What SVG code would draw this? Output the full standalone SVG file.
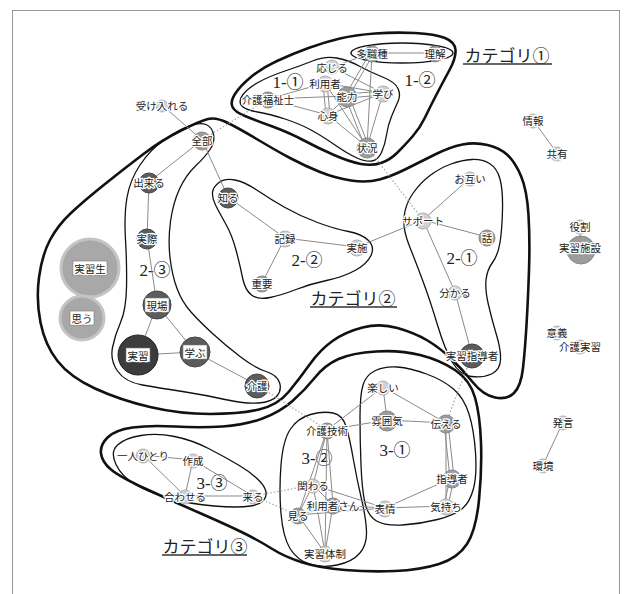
<svg xmlns="http://www.w3.org/2000/svg" width="628" height="594" viewBox="0 0 628 594">
<style>
.thick{fill:none;stroke:#111;stroke-width:2.6;stroke-linejoin:round}
.thin{fill:none;stroke:#111;stroke-width:1.3;stroke-linejoin:round}
.e{stroke:#8a8a8a;stroke-width:1;fill:none}
.d{stroke:#aaa;stroke-width:1.2;stroke-dasharray:1.5 2;fill:none}
.lbl{font-family:"Noto Sans CJK JP",sans-serif;font-size:10.5px;fill:#222;text-anchor:middle;dominant-baseline:central;stroke:#fff;stroke-width:2.5;paint-order:stroke;stroke-linejoin:round}
.box{fill:#fff;stroke:#777;stroke-width:0.6}
.c1{fill:#d0d0d0;stroke:#b0b0b0}
.c2{fill:#9c9c9c;stroke:#888}
.c3{fill:#5c5c5c;stroke:#444}
.c4{fill:#3c3c3c;stroke:#222}
.big{fill:#a8a8a8;stroke:#c4c4c4;stroke-width:3}
.sub{font-family:"Liberation Serif","Noto Sans CJK JP",serif;font-size:17px;fill:#222;text-anchor:middle;dominant-baseline:central}
.cat{font-family:"Noto Sans CJK JP",sans-serif;font-size:17px;fill:#222;text-anchor:middle;dominant-baseline:central}
.ul{stroke:#333;stroke-width:1.3}
</style>
<rect x="12.5" y="10.5" width="607" height="600" fill="#fff" stroke="#999" stroke-width="1"/>

<g id="outlines">
<path class="thick" d="M232.5,107 Q230,102 235,94 240,86 251,77 262,68 277,61 292,54 308.5,48 325,42 340,38.5 355,35 375,33.5 395,32 415,33 435,34 445,38 455,42 455.5,50 456,58 449.5,70 443,82 436.5,94.5 430,107 425,117.5 420,128 412.5,136.5 405,145 397.5,152.5 390,160 381,163 372,166 361,164 350,162 334,155 318,148 304,140.5 290,133 272.5,126.5 255,120 245,116 235,112 232.5,107 Z"/>
<path class="thin" d="M241.5,105.5 Q238,101 243,94.5 248,88 259,82 270,76 285,71 300,66 312.5,61 325,56 336.5,58 348,60 359,66 370,72 382.5,77 395,82 398,88.5 401,95 398,101.5 395,108 391.5,116.5 388,125 386.5,135 385,145 381.5,152.5 378,160 372,161 366,162 357,158 348,154 335,145 322,136 311,130 300,124 285,119 270,114 257.5,112 245,110 241.5,105.5 Z"/>
<ellipse class="thin" cx="402" cy="53" rx="51" ry="10"/>
<path class="thick" d="M181,130.5 Q200,121 208,119 216,117 228,123 240,129 257.5,139.5 275,150 290,158 305,166 320,172 335,178 351,180.5 367,183 379.5,179.5 392,176 406,169 420,162 435,154.5 450,147 462.5,144.5 475,142 487.5,145 500,148 507.5,155 515,162 521,176 527,190 528.5,215 530,240 529,270 528,300 526.5,325 525,350 523,368 521,386 514,393 507,400 495,397.5 483,395 473,382.5 463,370 451.5,359 440,348 427.5,340.5 415,333 397.5,328 380,323 362.5,327.5 345,332 332.5,341 320,350 310,364 300,378 289,391.5 278,405 259,409.5 240,414 210,414 180,414 150,407 120,400 95,388.5 70,377 57.5,361 45,345 40.5,322.5 36,300 39,277.5 42,255 50,240 58,225 71.5,212.5 85,200 105,184 125,168 143.5,154 162,140 181,130.5 Z"/>
<path class="thin" d="M189,126 Q200,122 206,124.5 212,127 213.5,134.5 215,142 210,149.5 205,157 195.5,166 186,175 179.5,189 173,203 170.5,221.5 168,240 170,257.5 172,275 177,288.5 182,302 191,312 200,322 212.5,333.5 225,345 240,356.5 255,368 266,371.5 277,375 279.5,382.5 282,390 277,396 272,402 258.5,403 245,404 225,399.5 205,395 182.5,391.5 160,388 142.5,385 125,382 117.5,371 110,360 112.5,347.5 115,335 120.5,322.5 126,310 126.5,287.5 127,265 125.5,240 124,215 127,197.5 130,180 140,165 150,150 164,140 178,130 189,126 Z"/>
<path class="thin" d="M212.5,192.5 Q213,187 219,182.5 225,178 235,180 245,182 257.5,190.5 270,199 285,207.5 300,216 317.5,222.5 335,229 348.5,231.5 362,234 368.5,240.5 375,247 371,255.5 367,264 355,270.5 343,277 326.5,280.5 310,284 296,289.5 282,295 270,297.5 258,300 251.5,295 245,290 242.5,277.5 240,265 236,250 232,235 225.5,223.5 219,212 215.5,205 212,198 212.5,192.5 Z"/>
<path class="thin" d="M404,217.5 Q405,205 412.5,194 420,183 430,175.5 440,168 451,164 462,160 472,159.5 482,159 489.5,163.5 497,168 500,179 503,190 502.5,210 502,230 500,242.5 498,255 492.5,262.5 487,270 486,280 485,290 488.5,305 492,320 496.5,335 501,350 500.5,360 500,370 491.5,374 483,378 471.5,376.5 460,375 452.5,362.5 445,350 437.5,325 430,300 422.5,280 415,260 409,245 403,230 404,217.5 Z"/>
<path class="thick" d="M101,453.5 Q100,445 107.5,437.5 115,430 132.5,427.5 150,425 175,426.5 200,428 222.5,426.5 245,425 262.5,418.5 280,412 292.5,401 305,390 315,377.5 325,365 338.5,359 352,353 376,351.5 400,350 420,355 440,360 455,370 470,380 475,397.5 480,415 481,442.5 482,470 479,500 476,530 467,544 458,558 439,564 420,570 395,571 370,572 345,570 320,568 302.5,562.5 285,557 271.5,548.5 258,540 241.5,532 225,524 197.5,512 170,500 145,488.5 120,477 111,469.5 102,462 101,453.5 Z"/>
<path class="thin" d="M116,464.5 Q110,452 117.5,445 125,438 141,435.5 157,433 174.5,436.5 192,440 208.5,448.5 225,457 238.5,465 252,473 260,481.5 268,490 265.5,497 263,504 250.5,506 238,508 214,506 190,504 170,498.5 150,493 136,485 122,477 116,464.5 Z"/>
<path class="thin" d="M360,417.5 Q360,395 363,385 366,375 375.5,370.5 385,366 397.5,367 410,368 426.5,374 443,380 453.5,389 464,398 469,414 474,430 475.5,452.5 477,475 473.5,488.5 470,502 462.5,508.5 455,515 437.5,519.5 420,524 402.5,525 385,526 376.5,521 368,516 365,503 362,490 361,465 360,440 360,417.5 Z"/>
<path class="thin" d="M281,465 Q283,440 290.5,429 298,418 310.5,414.5 323,411 333,413 343,415 346.5,427.5 350,440 353.5,460 357,480 361.5,499 366,518 366.5,531.5 367,545 359.5,553.5 352,562 337,565 322,568 309.5,564 297,560 290,548.5 283,537 281,513.5 279,490 281,465 Z"/>
</g>

<g id="labels">
<text class="sub" x="288" y="82">1-①</text>
<text class="sub" x="420" y="80">1-②</text>
<text class="sub" x="462" y="258">2-①</text>
<text class="sub" x="307" y="260">2-②</text>
<text class="sub" x="155" y="270">2-③</text>
<text class="sub" x="395" y="450">3-①</text>
<text class="sub" x="317" y="458">3-②</text>
<text class="sub" x="212" y="483">3-③</text>
<text class="cat" x="507" y="54">カテゴリ①</text>
<line class="ul" x1="463" y1="64" x2="552" y2="64"/>
<text class="cat" x="353" y="297">カテゴリ②</text>
<line class="ul" x1="310" y1="307" x2="397" y2="307"/>
<text class="cat" x="205" y="545">カテゴリ③</text>
<line class="ul" x1="162" y1="555" x2="247" y2="555"/>
</g>

<g id="connectors">
<line class="e" x1="372" y1="53" x2="435" y2="53"/>
<line class="e" x1="372" y1="53" x2="332" y2="67"/>
<line class="e" x1="370" y1="53" x2="345" y2="96"/>
<line class="e" x1="374" y1="53" x2="349" y2="96"/>
<line class="e" x1="372" y1="53" x2="367" y2="147"/>
<line class="e" x1="332" y1="67" x2="383" y2="93"/>
<line class="e" x1="325" y1="83" x2="383" y2="93"/>
<line class="e" x1="268" y1="99" x2="347" y2="96"/>
<line class="e" x1="268" y1="99" x2="325" y2="83"/>
<line class="e" x1="268" y1="99" x2="328" y2="115"/>
<line class="e" x1="347" y1="94" x2="383" y2="91"/>
<line class="e" x1="347" y1="98" x2="383" y2="95"/>
<line class="e" x1="323" y1="83" x2="326" y2="115"/>
<line class="e" x1="327" y1="83" x2="330" y2="115"/>
<line class="e" x1="325" y1="83" x2="367" y2="147"/>
<line class="e" x1="345" y1="96" x2="365" y2="147"/>
<line class="e" x1="349" y1="96" x2="369" y2="147"/>
<line class="e" x1="347" y1="96" x2="328" y2="115"/>
<line class="e" x1="328" y1="115" x2="367" y2="147"/>
<line class="e" x1="328" y1="115" x2="383" y2="93"/>
<line class="e" x1="383" y1="93" x2="367" y2="147"/>
<line class="e" x1="162" y1="105" x2="202" y2="140"/>
<line class="e" x1="202" y1="140" x2="149" y2="182"/>
<line class="e" x1="202" y1="140" x2="228" y2="197"/>
<line class="e" x1="149" y1="182" x2="147" y2="238"/>
<line class="e" x1="147" y1="238" x2="157" y2="305"/>
<line class="e" x1="157" y1="305" x2="138" y2="355"/>
<line class="e" x1="157" y1="305" x2="195" y2="352"/>
<line class="e" x1="138" y1="355" x2="195" y2="352"/>
<line class="e" x1="195" y1="352" x2="257" y2="385"/>
<line class="e" x1="90" y1="268" x2="82" y2="317"/>
<line class="e" x1="228" y1="197" x2="285" y2="238"/>
<line class="e" x1="285" y1="238" x2="357" y2="247"/>
<line class="e" x1="285" y1="238" x2="262" y2="283"/>
<line class="e" x1="357" y1="247" x2="423" y2="220"/>
<line class="e" x1="423" y1="220" x2="470" y2="178"/>
<line class="e" x1="423" y1="220" x2="487" y2="237"/>
<line class="e" x1="423" y1="220" x2="455" y2="292"/>
<line class="e" x1="455" y1="292" x2="472" y2="355"/>
<line class="e" x1="383" y1="387" x2="387" y2="420"/>
<line class="e" x1="383" y1="387" x2="446" y2="423"/>
<line class="e" x1="383" y1="387" x2="327" y2="430"/>
<line class="e" x1="387" y1="420" x2="446" y2="423"/>
<line class="e" x1="387" y1="420" x2="327" y2="430"/>
<line class="e" x1="444" y1="423" x2="450" y2="478"/>
<line class="e" x1="448" y1="423" x2="454" y2="478"/>
<line class="e" x1="446" y1="423" x2="446" y2="506"/>
<line class="e" x1="450" y1="478" x2="444" y2="506"/>
<line class="e" x1="454" y1="478" x2="448" y2="506"/>
<line class="e" x1="452" y1="478" x2="385" y2="508"/>
<line class="e" x1="385" y1="508" x2="446" y2="506"/>
<line class="e" x1="327" y1="430" x2="313" y2="485"/>
<line class="e" x1="327" y1="430" x2="298" y2="515"/>
<line class="e" x1="327" y1="430" x2="325" y2="553"/>
<line class="e" x1="327" y1="430" x2="333" y2="505"/>
<line class="e" x1="313" y1="485" x2="385" y2="508"/>
<line class="e" x1="333" y1="505" x2="385" y2="508"/>
<line class="e" x1="298" y1="515" x2="385" y2="508"/>
<line class="e" x1="313" y1="485" x2="298" y2="515"/>
<line class="e" x1="313" y1="485" x2="325" y2="553"/>
<line class="e" x1="313" y1="485" x2="333" y2="505"/>
<line class="e" x1="298" y1="515" x2="333" y2="505"/>
<line class="e" x1="298" y1="515" x2="325" y2="553"/>
<line class="e" x1="333" y1="505" x2="325" y2="553"/>
<line class="e" x1="143" y1="455" x2="193" y2="460"/>
<line class="e" x1="143" y1="455" x2="185" y2="496"/>
<line class="e" x1="193" y1="460" x2="185" y2="496"/>
<line class="e" x1="193" y1="460" x2="253" y2="496"/>
<line class="e" x1="185" y1="496" x2="253" y2="496"/>
<line class="e" x1="533" y1="120" x2="557" y2="153"/>
<line class="e" x1="580" y1="226" x2="580" y2="247"/>
<line class="e" x1="563" y1="422" x2="543" y2="465"/>
<line class="d" x1="202" y1="140" x2="268" y2="99"/>
<line class="d" x1="367" y1="147" x2="423" y2="220"/>
<line class="d" x1="472" y1="355" x2="446" y2="423"/>
<line class="d" x1="257" y1="385" x2="327" y2="430"/>
<line class="d" x1="253" y1="496" x2="313" y2="485"/>
<line class="d" x1="253" y1="496" x2="298" y2="515"/>
</g>

<g id="n-tashokushu"><circle class="c2" cx="372" cy="54" r="8"/><text class="lbl" x="372" y="53">多職種</text></g>
<g id="n-rikai"><circle class="c2" cx="435" cy="54" r="8"/><text class="lbl" x="435" y="53">理解</text></g>
<g id="n-ojiru"><circle class="c1" cx="332" cy="67" r="7"/><text class="lbl" x="332" y="67">応じる</text></g>
<g id="n-riyousha"><circle class="c1" cx="325" cy="84" r="8"/><text class="lbl" x="325" y="83">利用者</text></g>
<g id="n-kaigofukushishi"><circle class="c2" cx="268" cy="100" r="8"/><text class="lbl" x="268" y="99">介護福祉士</text></g>
<g id="n-nouryoku"><circle class="c2" cx="347" cy="97" r="10"/><text class="lbl" x="347" y="96">能力</text></g>
<g id="n-manabi"><circle class="c1" cx="383" cy="94" r="8"/><text class="lbl" x="383" y="93">学び</text></g>
<g id="n-shinshin"><circle class="c1" cx="328" cy="116" r="8"/><text class="lbl" x="328" y="115">心身</text></g>
<g id="n-joukyou"><circle class="c2" cx="367" cy="148" r="10"/><text class="lbl" x="367" y="147">状況</text></g>
<g id="n-ukeireru"><circle class="c1" cx="162" cy="106" r="6"/><text class="lbl" x="162" y="105">受け入れる</text></g>
<g id="n-zenbu"><circle class="c2" cx="202" cy="141" r="9"/><text class="lbl" x="202" y="140">全部</text></g>
<g id="n-dekiru"><circle class="c3" cx="149" cy="183" r="10"/><text class="lbl" x="149" y="182">出来る</text></g>
<g id="n-shiru"><circle class="c3" cx="228" cy="198" r="10"/><text class="lbl" x="228" y="197">知る</text></g>
<g id="n-jissai"><circle class="c3" cx="147" cy="239" r="10"/><text class="lbl" x="147" y="238">実際</text></g>
<g id="n-kiroku"><circle class="c1" cx="285" cy="239" r="8"/><text class="lbl" x="285" y="238">記録</text></g>
<g id="n-juuyou"><circle class="c2" cx="262" cy="284" r="8"/><text class="lbl" x="262" y="283">重要</text></g>
<g id="n-jisshi"><circle class="c1" cx="357" cy="248" r="8"/><text class="lbl" x="357" y="247">実施</text></g>
<g id="n-support"><circle class="c1" cx="423" cy="221" r="8"/><text class="lbl" x="423" y="220">サポート</text></g>
<g id="n-otagai"><circle class="c1" cx="470" cy="179" r="7"/><text class="lbl" x="470" y="178">お互い</text></g>
<g id="n-hanashi"><circle class="c2" cx="487" cy="238" r="8"/><text class="lbl" x="487" y="237">話</text></g>
<g id="n-wakaru"><circle class="c1" cx="455" cy="293" r="7"/><text class="lbl" x="455" y="292">分かる</text></g>
<g id="n-jisshushidousha"><circle class="c3" cx="472" cy="356" r="12"/><text class="lbl" x="472" y="355">実習指導者</text></g>
<g id="n-jisshusei"><circle class="big" cx="90" cy="268" r="29"/><rect class="box" x="73" y="261" width="34" height="14"/><text class="lbl" x="90" y="268">実習生</text></g>
<g id="n-omou"><circle class="big" cx="82" cy="318" r="22"/><rect class="box" x="70" y="311" width="24" height="14"/><text class="lbl" x="82" y="318">思う</text></g>
<g id="n-genba"><circle class="c3" cx="157" cy="305" r="14"/><rect class="box" x="145" y="298" width="24" height="14"/><text class="lbl" x="157" y="305">現場</text></g>
<g id="n-jisshu"><circle class="c4" cx="138" cy="355" r="20"/><rect class="box" x="126" y="348" width="24" height="14"/><text class="lbl" x="138" y="355">実習</text></g>
<g id="n-manabu"><circle class="c3" cx="195" cy="352" r="15"/><rect class="box" x="183" y="345" width="24" height="14"/><text class="lbl" x="195" y="352">学ぶ</text></g>
<g id="n-kaigo"><circle class="c3" cx="257" cy="386" r="12"/><text class="lbl" x="257" y="385">介護</text></g>
<g id="n-tanoshii"><circle class="c1" cx="383" cy="388" r="7"/><text class="lbl" x="383" y="387">楽しい</text></g>
<g id="n-funiki"><circle class="c2" cx="387" cy="421" r="10"/><text class="lbl" x="387" y="420">雰囲気</text></g>
<g id="n-tsutaeru"><circle class="c2" cx="446" cy="424" r="9"/><text class="lbl" x="446" y="423">伝える</text></g>
<g id="n-kaigogijutsu"><circle class="c2" cx="327" cy="431" r="8"/><text class="lbl" x="327" y="430">介護技術</text></g>
<g id="n-shidousha"><circle class="c2" cx="452" cy="479" r="9"/><text class="lbl" x="452" y="478">指導者</text></g>
<g id="n-kakawaru"><circle class="c1" cx="313" cy="486" r="7"/><text class="lbl" x="313" y="485">関わる</text></g>
<g id="n-riyoushasan"><circle class="c2" cx="333" cy="506" r="8"/><text class="lbl" x="333" y="505">利用者さん</text></g>
<g id="n-hyoujou"><circle class="c1" cx="385" cy="509" r="8"/><text class="lbl" x="385" y="508">表情</text></g>
<g id="n-kimochi"><circle class="c1" cx="446" cy="507" r="8"/><text class="lbl" x="446" y="506">気持ち</text></g>
<g id="n-miru"><circle class="c2" cx="298" cy="516" r="8"/><text class="lbl" x="298" y="515">見る</text></g>
<g id="n-jisshutaisei"><circle class="c1" cx="325" cy="554" r="8"/><text class="lbl" x="325" y="553">実習体制</text></g>
<g id="n-hitorihitori"><circle class="c1" cx="143" cy="456" r="7"/><text class="lbl" x="143" y="455">一人ひとり</text></g>
<g id="n-sakusei"><circle class="c1" cx="193" cy="461" r="7"/><text class="lbl" x="193" y="460">作成</text></g>
<g id="n-awaseru"><circle class="c1" cx="185" cy="497" r="7"/><text class="lbl" x="185" y="496">合わせる</text></g>
<g id="n-kuru"><circle class="c1" cx="253" cy="497" r="7"/><text class="lbl" x="253" y="496">来る</text></g>
<g id="n-jouhou"><circle class="c1" cx="533" cy="121" r="7"/><text class="lbl" x="533" y="120">情報</text></g>
<g id="n-kyouyuu"><circle class="c1" cx="557" cy="154" r="7"/><text class="lbl" x="557" y="153">共有</text></g>
<g id="n-yakuwari"><circle class="c1" cx="580" cy="227" r="7"/><text class="lbl" x="580" y="226">役割</text></g>
<g id="n-jisshushisetsu"><circle class="c2" cx="581" cy="250" r="14"/><text class="lbl" x="580" y="247">実習施設</text></g>
<g id="n-igi"><circle class="c1" cx="557" cy="333" r="7"/><text class="lbl" x="557" y="332">意義</text></g>
<g id="n-kaigojisshu"><circle class="c1" cx="580" cy="347" r="7"/><text class="lbl" x="580" y="346">介護実習</text></g>
<g id="n-hatsugen"><circle class="c1" cx="563" cy="423" r="7"/><text class="lbl" x="563" y="422">発言</text></g>
<g id="n-kankyou"><circle class="c1" cx="543" cy="466" r="7"/><text class="lbl" x="543" y="465">環境</text></g>
</svg>
